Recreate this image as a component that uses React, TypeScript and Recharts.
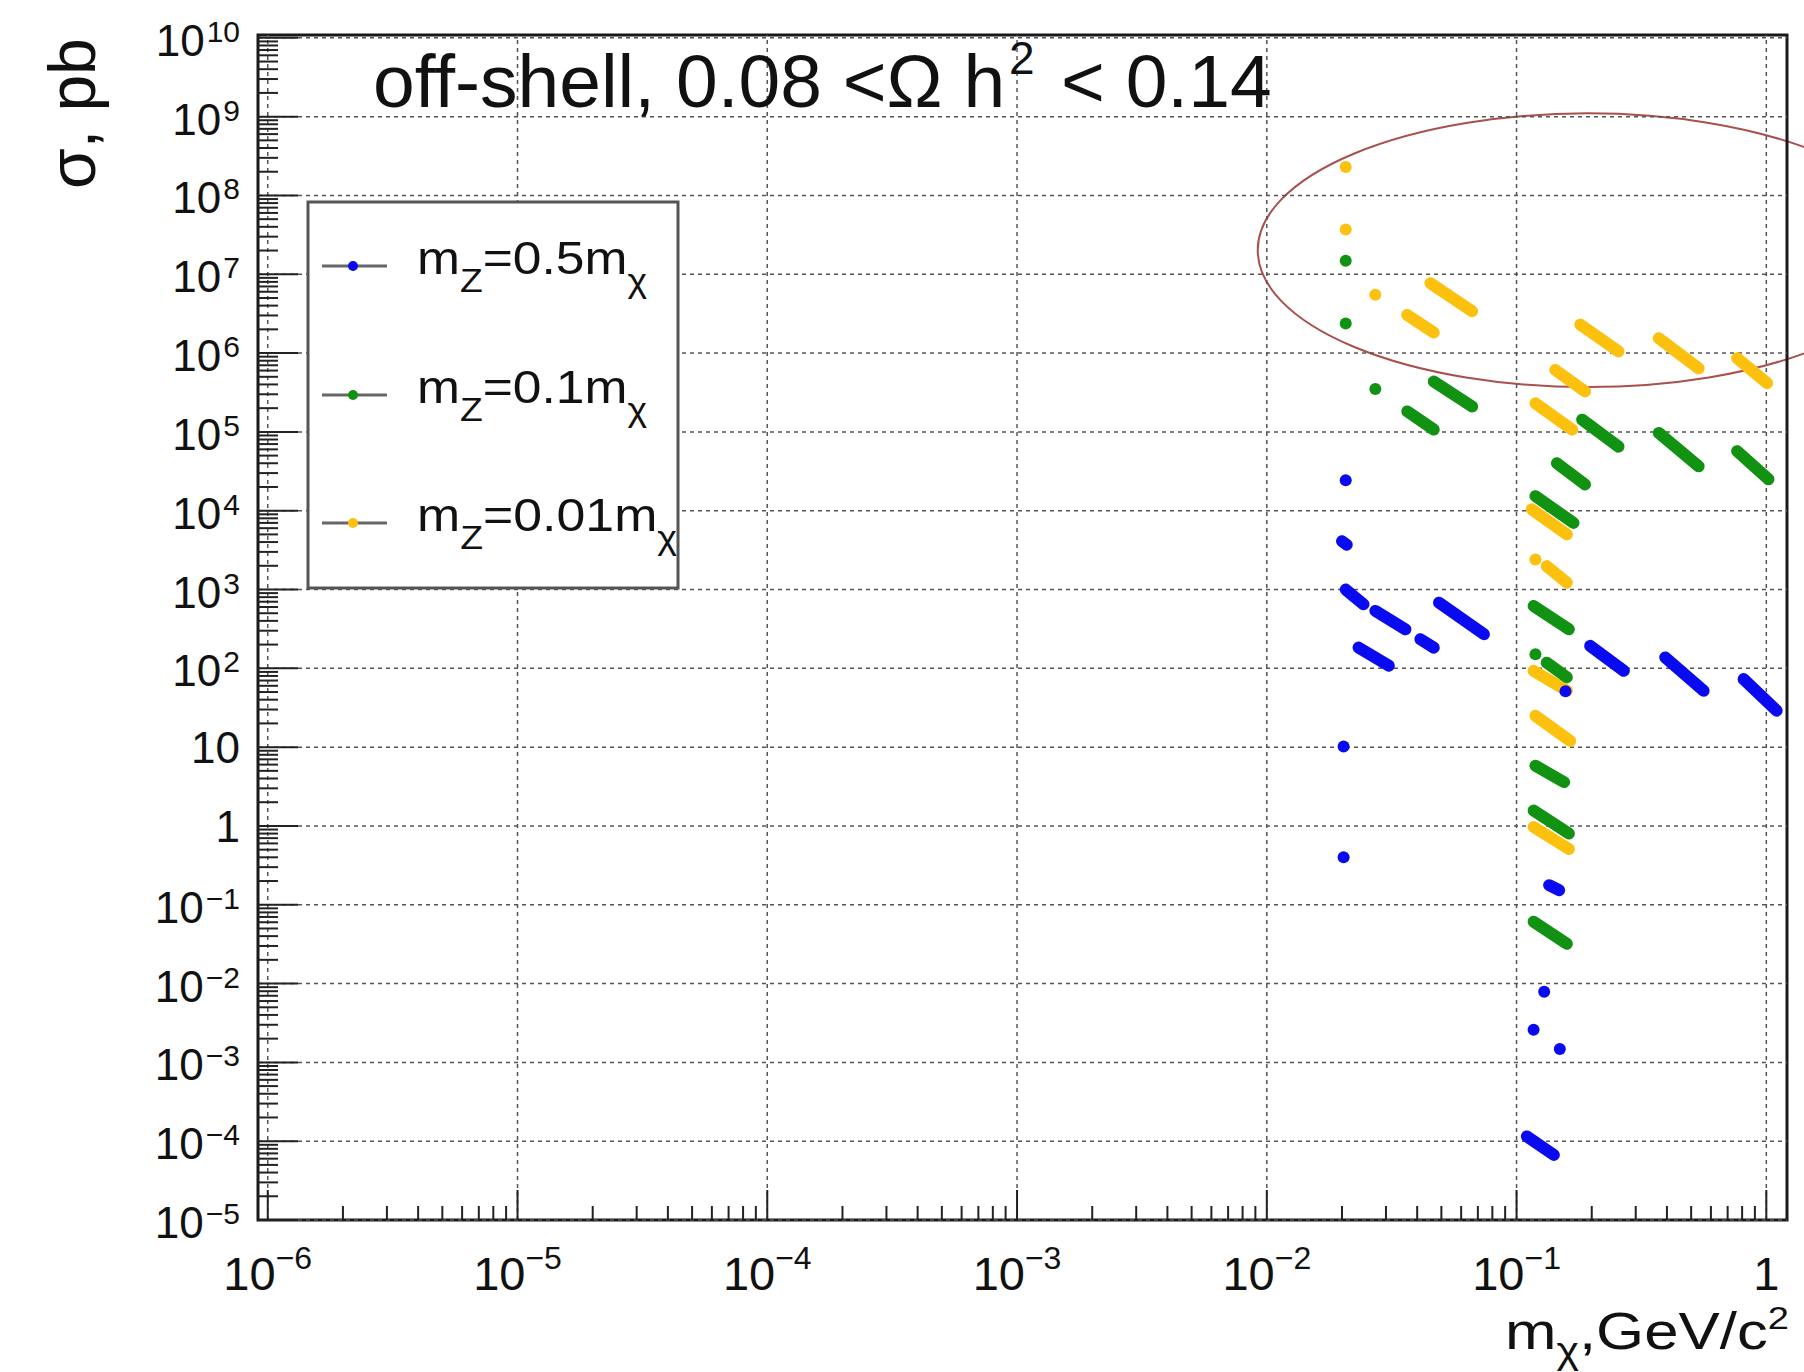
import React from 'react';
import {
  ComposedChart,
  XAxis,
  YAxis,
  Scatter,
  Line,
  ReferenceLine,
  ReferenceArea,
} from 'recharts';

const FONT = '"Liberation Sans", Arial, Helvetica, sans-serif';

const X_DOMAIN: [number, number] = [9.14e-7, 1.21];
const Y_DOMAIN: [number, number] = [1e-5, 1.086e10];

const X_MAJOR = [1e-6, 1e-5, 1e-4, 1e-3, 1e-2, 1e-1, 1];
const X_TICK_LABELS: [string, string][] = [
  ['10', '−6'],
  ['10', '−5'],
  ['10', '−4'],
  ['10', '−3'],
  ['10', '−2'],
  ['10', '−1'],
  ['1', ''],
];

const Y_MAJOR = [
  1e-5, 1e-4, 1e-3, 1e-2, 1e-1, 1, 10, 1e2, 1e3, 1e4, 1e5, 1e6, 1e7, 1e8, 1e9, 1e10,
];
const Y_TICK_LABELS: [string, string][] = [
  ['10', '−5'],
  ['10', '−4'],
  ['10', '−3'],
  ['10', '−2'],
  ['10', '−1'],
  ['1', ''],
  ['10', ''],
  ['10', '2'],
  ['10', '3'],
  ['10', '4'],
  ['10', '5'],
  ['10', '6'],
  ['10', '7'],
  ['10', '8'],
  ['10', '9'],
  ['10', '10'],
];

const MINOR_STEPS = [2, 3, 4, 5, 6, 7, 8, 9];

// m_Z = 0.5 m_chi  (blue)
const BLUE_POINTS: [number, number][] = [
  [0.0207, 2.43e4],
  [0.0203, 10.2],
  [0.0203, 0.4],
  [0.157, 51],
  [0.129, 7.9e-3],
  [0.117, 2.6e-3],
  [0.149, 1.48e-3],
];
const BLUE_SEGMENTS: [number, number, number, number][] = [
  [0.02, 4.1e3, 0.0209, 3.7e3],
  [0.0207, 1.0e3, 0.0244, 650],
  [0.0272, 535, 0.0359, 313],
  [0.0412, 234, 0.0466, 183],
  [0.0489, 681, 0.074, 271],
  [0.0233, 183, 0.0308, 108],
  [0.197, 193, 0.269, 93],
  [0.394, 137, 0.561, 52],
  [0.811, 73, 1.1, 29],
  [0.135, 0.177, 0.148, 0.153],
  [0.11, 1.15e-4, 0.141, 6.7e-5],
];

// m_Z = 0.1 m_chi  (green)
const GREEN_POINTS: [number, number][] = [
  [0.0207, 1.48e7],
  [0.0207, 2.38e6],
  [0.0272, 3.5e5],
  [0.119, 151],
];
const GREEN_SEGMENTS: [number, number, number, number][] = [
  [0.0466, 4.35e5, 0.0664, 2.1e5],
  [0.0365, 1.82e5, 0.0466, 1.07e5],
  [0.183, 1.43e5, 0.256, 6.5e4],
  [0.371, 9.7e4, 0.536, 3.66e4],
  [0.764, 5.7e4, 1.02, 2.5e4],
  [0.145, 4.0e4, 0.188, 2.15e4],
  [0.119, 1.53e4, 0.169, 7.0e3],
  [0.117, 618, 0.162, 313],
  [0.132, 118, 0.159, 77],
  [0.119, 5.8, 0.155, 3.6],
  [0.117, 1.57, 0.162, 0.8],
  [0.117, 0.061, 0.159, 0.032],
];

// m_Z = 0.01 m_chi  (yellow)
const YELLOW_POINTS: [number, number][] = [
  [0.0207, 2.3e8],
  [0.0207, 3.7e7],
  [0.0272, 5.5e6],
  [0.119, 2.4e3],
];
const YELLOW_SEGMENTS: [number, number, number, number][] = [
  [0.0452, 7.7e6, 0.0664, 3.4e6],
  [0.0365, 3.05e6, 0.0466, 1.83e6],
  [0.18, 2.3e6, 0.256, 1.05e6],
  [0.371, 1.54e6, 0.536, 6.4e5],
  [0.764, 8.6e5, 1.007, 4.15e5],
  [0.143, 6.1e5, 0.188, 3.26e5],
  [0.119, 2.3e5, 0.167, 1.07e5],
  [0.115, 1.04e4, 0.159, 5.0e3],
  [0.132, 1.98e3, 0.159, 1.22e3],
  [0.117, 93, 0.159, 52],
  [0.119, 25, 0.164, 12],
  [0.117, 0.97, 0.162, 0.51],
];

// bounding box of the highlighted region (ellipse)
const ELLIPSE_BOX = { x1: 0.0092, x2: 4.02, y1: 3.7e5, y2: 1.1e9 };

const SERIES = [
  { name: '0.5', color: '#0a0af0', points: BLUE_POINTS, segments: BLUE_SEGMENTS },
  { name: '0.1', color: '#129212', points: GREEN_POINTS, segments: GREEN_SEGMENTS },
  { name: '0.01', color: '#fcc10f', points: YELLOW_POINTS, segments: YELLOW_SEGMENTS },
];

// drawn back to front: yellow, green, blue
const DRAW_ORDER = [2, 1, 0];

const LEGEND_ROW_Y = [266, 395, 523];
const LEGEND_TEXT_W = [230, 230, 260];

function withMinor(major: number[], max: number): number[] {
  const out: number[] = [];
  major.forEach((m) => {
    out.push(m);
    MINOR_STEPS.forEach((s) => {
      if (m * s <= max) out.push(m * s);
    });
  });
  return out;
}

const X_TICKS = withMinor(X_MAJOR, X_DOMAIN[1]);
const Y_TICKS = withMinor(Y_MAJOR, Y_DOMAIN[1]);

function majorIndex(list: number[], v: number): number {
  return list.findIndex((m) => Math.abs(Math.log10(m / v)) < 1e-6);
}

function XTick(props: any) {
  const { x, y, payload } = props;
  const i = majorIndex(X_MAJOR, payload.value);
  const len = i >= 0 ? 30 : 14;
  return (
    <g>
      <line x1={x} x2={x} y1={y} y2={y - len} stroke="#222" strokeWidth={2} />
      {i >= 0 && (
        <text x={x} y={y + 70} textAnchor="middle" fontFamily={FONT} fontSize={47} fill="#111">
          <tspan>{X_TICK_LABELS[i][0]}</tspan>
          {X_TICK_LABELS[i][1] && (
            <tspan dy={-21} fontSize={32}>
              {X_TICK_LABELS[i][1]}
            </tspan>
          )}
        </text>
      )}
    </g>
  );
}

function YTick(props: any) {
  const { x, y, payload } = props;
  const i = majorIndex(Y_MAJOR, payload.value);
  const len = i >= 0 ? 40 : 20;
  const exp = i >= 0 ? Y_TICK_LABELS[i][1] : '';
  return (
    <g>
      <line x1={x} x2={x + len} y1={y} y2={y} stroke="#222" strokeWidth={2} />
      {i >= 0 && (
        <text
          x={x - 18}
          y={y + (exp ? 18 : 16)}
          textAnchor="end"
          fontFamily={FONT}
          fontSize={44}
          fill="#111"
        >
          <tspan>{Y_TICK_LABELS[i][0]}</tspan>
          {exp && (
            <tspan dx={2} dy={-14} fontSize={30}>
              {exp}
            </tspan>
          )}
        </text>
      )}
    </g>
  );
}

const toXY = (pts: [number, number][]) => pts.map(([x, y]) => ({ x, y }));

export default function App() {
  return (
    <div style={{ position: 'absolute', left: 0, top: 0, width: 1804, height: 1372, background: '#fff' }}>
      <ComposedChart width={1804} height={1372} margin={{ top: 35, right: 17, bottom: 0, left: 0 }}>
        <XAxis
          dataKey="x"
          type="number"
          scale="log"
          domain={X_DOMAIN}
          allowDataOverflow
          ticks={X_TICKS}
          interval={0}
          tickSize={0}
          tickMargin={0}
          tickLine={false}
          axisLine={false}
          tick={(p: any) => <XTick {...p} />}
          height={152}
        />
        <YAxis
          dataKey="y"
          type="number"
          scale="log"
          domain={Y_DOMAIN}
          allowDataOverflow
          ticks={Y_TICKS}
          interval={0}
          tickSize={0}
          tickMargin={0}
          tickLine={false}
          axisLine={false}
          tick={(p: any) => <YTick {...p} />}
          width={258}
        />

        {X_MAJOR.map((v) => (
          <ReferenceLine key={`gx${v}`} x={v} stroke="#555" strokeWidth={1.5} strokeDasharray="4 4" />
        ))}
        {Y_MAJOR.map((v) => (
          <ReferenceLine key={`gy${v}`} y={v} stroke="#555" strokeWidth={1.5} strokeDasharray="4 4" />
        ))}

        <ReferenceArea
          x1={ELLIPSE_BOX.x1}
          x2={ELLIPSE_BOX.x2}
          y1={ELLIPSE_BOX.y1}
          y2={ELLIPSE_BOX.y2}
          ifOverflow="hidden"
          shape={(p: any) => (
            <ellipse
              cx={p.x + p.width / 2}
              cy={p.y + p.height / 2}
              rx={Math.abs(p.width) / 2}
              ry={Math.abs(p.height) / 2}
              fill="none"
              stroke="#a8504e"
              strokeWidth={2}
            />
          )}
        />

        {DRAW_ORDER.map((si) => {
          const s = SERIES[si];
          return [
            ...s.segments.map((seg, k) => (
              <Line
                key={`l${si}-${k}`}
                data={[
                  { x: seg[0], y: seg[1] },
                  { x: seg[2], y: seg[3] },
                ]}
                dataKey="y"
                type="linear"
                stroke={s.color}
                strokeWidth={12}
                strokeLinecap="round"
                dot={false}
                activeDot={false}
                legendType="none"
                isAnimationActive={false}
              />
            )),
            <Scatter
              key={`s${si}`}
              data={toXY(s.points)}
              fill={s.color}
              isAnimationActive={false}
              shape={(p: any) => <circle cx={p.cx} cy={p.cy} r={6} fill={s.color} />}
            />,
          ];
        })}

        <ReferenceArea
          x1={X_DOMAIN[0]}
          x2={X_DOMAIN[1]}
          y1={Y_DOMAIN[0]}
          y2={Y_DOMAIN[1]}
          fill="none"
          stroke="#1a1a1a"
          strokeWidth={3}
          ifOverflow="visible"
        />
      </ComposedChart>

      <svg
        width={1804}
        height={1372}
        style={{ position: 'absolute', left: 0, top: 0, pointerEvents: 'none' }}
        fontFamily={FONT}
        fill="#111"
      >
        {/* title */}
        <text x={373} y={107} fontSize={75}>
          off-shell, 0.08 {'<'}Ω h
        </text>
        <text x={1009} y={74} fontSize={46}>
          2
        </text>
        <text x={1061} y={107} fontSize={75}>
          {'< 0.14'}
        </text>

        {/* y axis title */}
        <text x={95} y={189} fontSize={66} transform="rotate(-90 95 189)">
          σ, pb
        </text>

        {/* x axis title */}
        <text x={1505} y={1349} fontSize={52} textLength={284} lengthAdjust="spacingAndGlyphs">
          m<tspan dy={14} fontSize={36}>χ</tspan>
          <tspan dy={-14}>,GeV/c</tspan>
          <tspan dy={-20} fontSize={32}>2</tspan>
        </text>

        {/* legend */}
        <rect x={308} y={202} width={370} height={386} fill="#fff" stroke="#555" strokeWidth={3} />
        {SERIES.map((s, i) => {
          const ly = LEGEND_ROW_Y[i];
          return (
            <g key={s.name}>
              <line x1={322} x2={387} y1={ly} y2={ly} stroke="#666" strokeWidth={3} />
              <circle cx={353} cy={ly} r={5} fill={s.color} />
              <text
                x={417}
                y={ly + 8}
                fontSize={47}
                textLength={LEGEND_TEXT_W[i]}
                lengthAdjust="spacingAndGlyphs"
              >
                m<tspan dy={18} fontSize={34}>Z</tspan>
                <tspan dy={-18}>={s.name}m</tspan>
                <tspan dy={18} fontSize={34}>χ</tspan>
              </text>
            </g>
          );
        })}
      </svg>
    </div>
  );
}
